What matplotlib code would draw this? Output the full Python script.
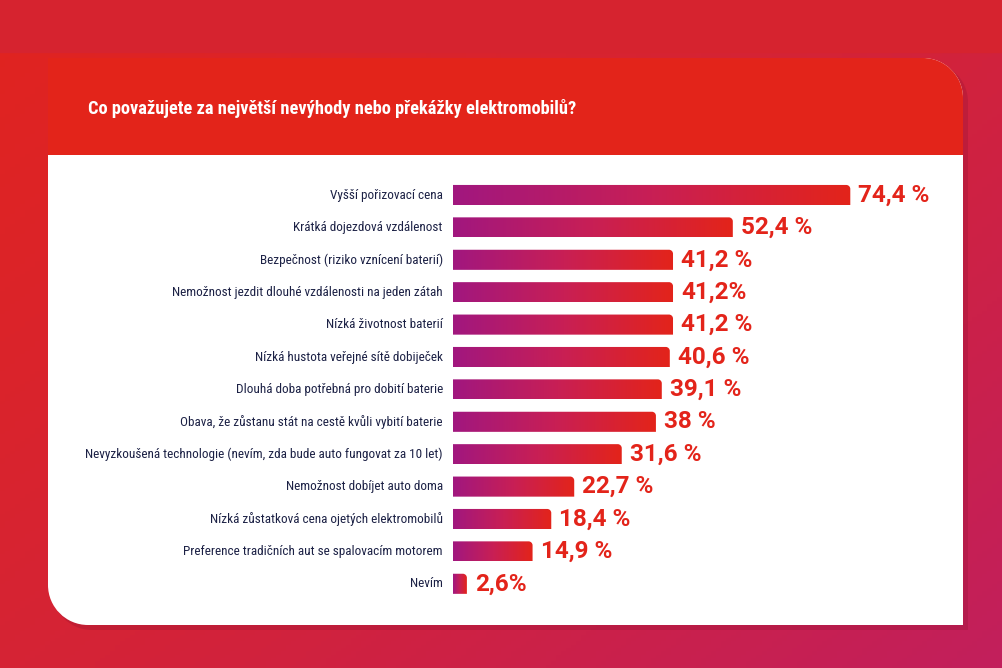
import matplotlib
matplotlib.use("Agg")
import matplotlib.pyplot as plt
import numpy as np
import matplotlib.colors as clr
from matplotlib.path import Path
from matplotlib.patches import PathPatch

title = "Co považujete za největší nevýhody nebo překážky elektromobilů?"

categories = [
    "Vyšší pořizovací cena",
    "Krátká dojezdová vzdálenost",
    "Bezpečnost (riziko vznícení baterií)",
    "Nemožnost jezdit dlouhé vzdálenosti na jeden zátah",
    "Nízká životnost baterií",
    "Nízká hustota veřejné sítě dobiječek",
    "Dlouhá doba potřebná pro dobití baterie",
    "Obava, že zůstanu stát na cestě kvůli vybití baterie",
    "Nevyzkoušená technologie (nevím, zda bude auto fungovat za 10 let)",
    "Nemožnost dobíjet auto doma",
    "Nízká zůstatková cena ojetých elektromobilů",
    "Preference tradičních aut se spalovacím motorem",
    "Nevím",
]
values = [74.4, 52.4, 41.2, 41.2, 41.2, 40.6, 39.1, 38, 31.6, 22.7, 18.4, 14.9, 2.6]
value_labels = ["74,4 %", "52,4 %", "41,2 %", "41,2%", "41,2 %", "40,6 %", "39,1 %",
                "38 %", "31,6 %", "22,7 %", "18,4 %", "14,9 %", "2,6%"]

W, H = 1002, 668
RED = "#e3241a"
NAVY = "#1c2145"
COND = ["Roboto Condensed", "DejaVu Sans"]
barGrad = clr.LinearSegmentedColormap.from_list("bar", ["#a1177f", "#c81f55", "#e3241a"])
bgGrad = clr.LinearSegmentedColormap.from_list("bg", ["#e1231f", "#d42337", "#c21f5c"])


def px(x, y):
    # pixel coords (top-left origin) -> figure fraction
    return x / W, 1 - y / H


def cardPath(x0, y0, x1, y1, r):
    # rounded top-right and bottom-left corners only
    k = 0.5523 * r
    verts = [px(x0, y0), px(x1 - r, y0),
             px(x1 - r + k, y0), px(x1, y0 + r - k), px(x1, y0 + r),
             px(x1, y1), px(x0 + r, y1),
             px(x0 + r - k, y1), px(x0, y1 - r + k), px(x0, y1 - r),
             px(x0, y0)]
    codes = [Path.MOVETO, Path.LINETO,
             Path.CURVE4, Path.CURVE4, Path.CURVE4,
             Path.LINETO, Path.LINETO,
             Path.CURVE4, Path.CURVE4, Path.CURVE4,
             Path.CLOSEPOLY]
    return Path(verts, codes)


def barPath(x0, top, w, h, rx, ry):
    # bar with only the top-right corner rounded (y axis inverted: top = smaller y)
    x1 = x0 + w
    rx = min(rx, w / 2)
    k = 0.5523
    verts = [(x0, top), (x1 - rx, top),
             (x1 - rx + k * rx, top), (x1, top + ry - k * ry), (x1, top + ry),
             (x1, top + h), (x0, top + h), (x0, top)]
    codes = [Path.MOVETO, Path.LINETO,
             Path.CURVE4, Path.CURVE4, Path.CURVE4,
             Path.LINETO, Path.LINETO, Path.CLOSEPOLY]
    return Path(verts, codes)


def main():
    fig = plt.figure(figsize=(W / 100, H / 100), dpi=100)

    # background gradient
    bg = fig.add_axes([0, 0, 1, 1])
    bg.set_axis_off()
    gx, gy = np.meshgrid(np.linspace(0, 1, 200), np.linspace(0, 1, 200))
    bg.imshow(0.55 * gx + 0.45 * gy, cmap=bgGrad, aspect="auto", extent=(0, 1, 0, 1),
              transform=fig.transFigure, origin="upper")
    bg.add_patch(plt.Rectangle(px(0, 52), 1, 52 / H, transform=fig.transFigure,
                               color="#d6232f", zorder=2))

    # card with shadow
    shadow = PathPatch(cardPath(52, 62, 968, 630, 40), transform=fig.transFigure,
                       facecolor="#8a1030", alpha=0.25, edgecolor="none", zorder=3)
    bg.add_patch(shadow)
    card = PathPatch(cardPath(48, 58, 963, 625, 40), transform=fig.transFigure,
                     facecolor="white", edgecolor="none", zorder=4)
    bg.add_patch(card)
    header = plt.Rectangle(px(40, 155), 930 / W, 100 / H, transform=fig.transFigure,
                           facecolor=RED, edgecolor="none", zorder=5)
    header.set_clip_path(card)
    bg.add_patch(header)
    bg.set_xlim(0, 1)
    bg.set_ylim(0, 1)

    fig.text(*px(88, 108), title, color="white", fontsize=13.2, fontweight="bold",
             family=COND, fontstretch="condensed", va="center", ha="left", zorder=6)

    # chart axes
    left, right, top, bottom = 453, 963, 170, 610
    scale = 5.34
    step = 32.4
    ax = fig.add_axes([left / W, 1 - bottom / H, (right - left) / W, (bottom - top) / H])
    ax.set_axis_off()

    y = np.arange(len(values))
    bars = ax.barh(y, values, height=0.62, color="none")
    grad = np.linspace(0, 1, 256).reshape(1, -1)
    for b, lab, cat in zip(bars, value_labels, categories):
        x0, y0, w, h = b.get_x(), b.get_y(), b.get_width(), b.get_height()
        clip = PathPatch(barPath(x0, y0, w, h, 4 / scale, 4 / step),
                         transform=ax.transData, facecolor="none", edgecolor="none")
        ax.add_patch(clip)
        im = ax.imshow(grad, cmap=barGrad, aspect="auto", extent=(x0, x0 + w, y0 + h, y0),
                       zorder=2)
        im.set_clip_path(clip)
        ax.text(w + 1.5, y0 + h / 2, lab, color=RED, fontsize=17.5, fontweight="bold",
                family=["Roboto", "DejaVu Sans"], va="center", ha="left")
        ax.text(-1.9, y0 + h / 2, cat, color=NAVY, fontsize=9.5,
                family=COND, fontstretch="condensed", va="center", ha="right")

    ax.set_xlim(0, (right - left) / scale)
    ax.set_ylim((bottom - 195) / step, -(195 - top) / step)

    fig.savefig("out.png", dpi=100)


if __name__ == '__main__':
    main()
